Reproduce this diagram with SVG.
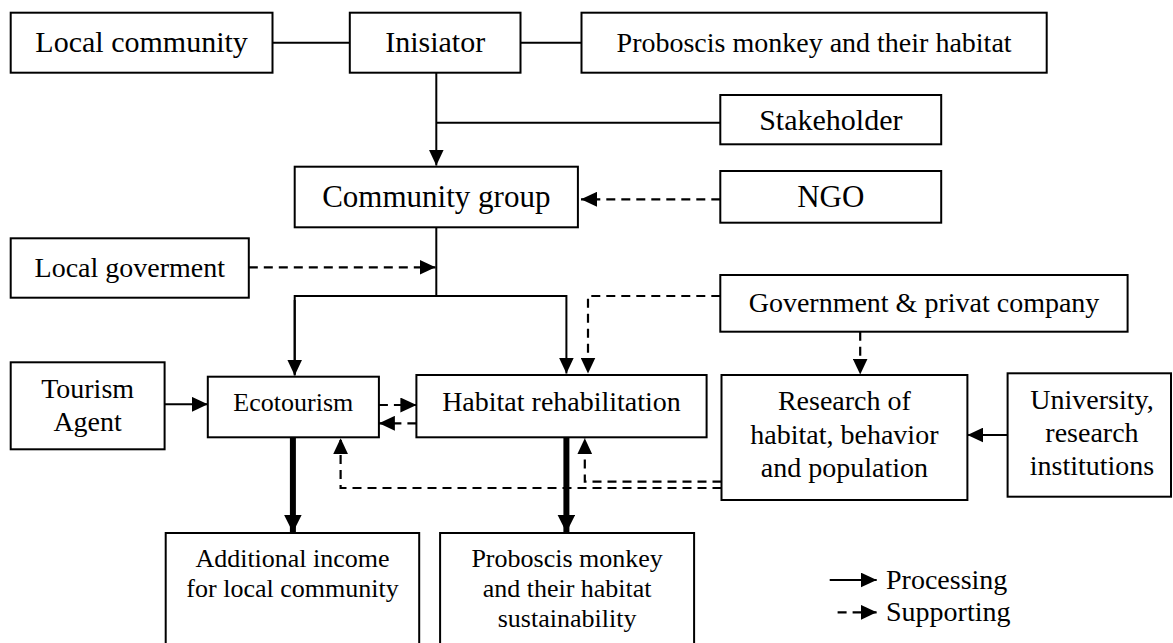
<svg xmlns="http://www.w3.org/2000/svg" width="1173" height="643" viewBox="0 0 1173 643">
<style>
  .box{fill:#fff;stroke:#000;stroke-width:2}
  text{fill:#000;text-anchor:middle}
  .f30{font-size:30px}
  .f28{font-size:28px}
  .f26{font-size:26px}
  .f31{font-size:31px}
  .ln{fill:none;stroke:#000;stroke-width:2}
  .ds{fill:none;stroke:#000;stroke-width:2.2;stroke-dasharray:9 6}
  .thick{fill:none;stroke:#000;stroke-width:6}
  .start{text-anchor:start}
</style>
<defs>
  <marker id="ah" markerUnits="userSpaceOnUse" markerWidth="16" markerHeight="15" refX="16" refY="7.5" orient="auto">
    <path d="M0,0 L16,7.5 L0,15 z" fill="#000"/>
  </marker>
  <marker id="ahT" markerUnits="userSpaceOnUse" markerWidth="18" markerHeight="18" refX="18" refY="9" orient="auto">
    <path d="M0,0 L18,9 L0,18 z" fill="#000"/>
  </marker>
</defs>

<g id="connectors">
  <line class="ln" x1="272.5" y1="42.7" x2="349.8" y2="42.7"/>
  <line class="ln" x1="520.5" y1="42.7" x2="581.5" y2="42.7"/>
  <line class="ln" x1="436.3" y1="72.7" x2="436.3" y2="165.5" marker-end="url(#ah)"/>
  <line class="ln" x1="436.3" y1="122.7" x2="720.3" y2="122.7"/>
  <line class="ds" x1="720.3" y1="199.3" x2="581" y2="199.3" marker-end="url(#ah)"/>
  <line class="ln" x1="436.3" y1="227.3" x2="436.3" y2="296"/>
  <line class="ds" x1="248.8" y1="267.3" x2="435.5" y2="267.3" marker-end="url(#ah)"/>
  <polyline class="ln" points="294.7,374.5 294.7,296 566.4,296 566.4,373.5" marker-end="url(#ah)"/>
  <line class="ln" x1="294.7" y1="300" x2="294.7" y2="375.5" marker-end="url(#ah)"/>
  <polyline class="ds" points="720.3,296 588,296 588,373.5" marker-end="url(#ah)"/>
  <line class="ds" x1="860.2" y1="331.7" x2="860.2" y2="374.5" marker-end="url(#ah)"/>
  <line class="ln" x1="164.6" y1="404.3" x2="207.8" y2="404.3" marker-end="url(#ah)"/>
  <line class="ds" x1="378.9" y1="405" x2="416.4" y2="405" marker-end="url(#ah)"/>
  <line class="ds" x1="416.4" y1="423.3" x2="378.9" y2="423.3" marker-end="url(#ah)"/>
  <line class="thick" x1="292.9" y1="437.3" x2="292.9" y2="532.5" marker-end="url(#ahT)"/>
  <line class="thick" x1="566.4" y1="437.3" x2="566.4" y2="532.5" marker-end="url(#ahT)"/>
  <polyline class="ds" points="721.5,488 340.6,488 340.6,438.3" marker-end="url(#ah)"/>
  <polyline class="ds" points="721.5,481.7 584.8,481.7 584.8,438.3" marker-end="url(#ah)"/>
  <line class="ln" x1="1007.6" y1="435" x2="967.4" y2="435" marker-end="url(#ah)"/>
</g>

<g font-family="'Liberation Serif', 'DejaVu Serif', 'Times New Roman', serif">
<g id="local-community">
  <rect class="box" x="10.7" y="12.7" width="261.8" height="60"/>
  <text class="f30" x="141.6" y="52">Local community</text>
</g>
<g id="inisiator">
  <rect class="box" x="349.8" y="12.7" width="170.7" height="60"/>
  <text class="f30" x="435.2" y="52">Inisiator</text>
</g>
<g id="proboscis-habitat">
  <rect class="box" x="581.5" y="12.7" width="465.2" height="60"/>
  <text class="f28" x="814.1" y="52">Proboscis monkey and their habitat</text>
</g>
<g id="stakeholder">
  <rect class="box" x="720.3" y="95" width="220.9" height="49.3"/>
  <text class="f30" x="830.8" y="130">Stakeholder</text>
</g>
<g id="community-group">
  <rect class="box" x="294.7" y="166.7" width="283.2" height="60.6"/>
  <text class="f31" x="436.3" y="207">Community group</text>
</g>
<g id="ngo">
  <rect class="box" x="720.3" y="171" width="220.9" height="51.7"/>
  <text class="f31" x="830.8" y="206.5">NGO</text>
</g>
<g id="local-goverment">
  <rect class="box" x="10.7" y="238.3" width="238.1" height="59.4"/>
  <text class="f28" x="129.8" y="277">Local goverment</text>
</g>
<g id="government-company">
  <rect class="box" x="720.3" y="275" width="407.3" height="56.7"/>
  <text class="f28" x="924" y="312">Government &amp; privat company</text>
</g>
<g id="tourism-agent">
  <rect class="box" x="10.7" y="362.3" width="153.9" height="87"/>
  <text class="f28" x="87.6" y="398">Tourism</text>
  <text class="f28" x="87.6" y="431">Agent</text>
</g>
<g id="ecotourism">
  <rect class="box" x="207.8" y="376.7" width="171.1" height="60.6"/>
  <text class="f26" x="293.3" y="411">Ecotourism</text>
</g>
<g id="habitat-rehabilitation">
  <rect class="box" x="416.4" y="375" width="290.2" height="62.3"/>
  <text class="f28" x="561.5" y="411">Habitat rehabilitation</text>
</g>
<g id="research">
  <rect class="box" x="721.5" y="375" width="245.9" height="125"/>
  <text class="f28" x="844.4" y="410">Research of</text>
  <text class="f28" x="844.4" y="443.5">habitat, behavior</text>
  <text class="f28" x="844.4" y="476.5">and population</text>
</g>
<g id="university">
  <rect class="box" x="1007.6" y="373.3" width="163.4" height="123.4"/>
  <text class="f28" x="1092" y="408.5">University,</text>
  <text class="f28" x="1092" y="441.5">research</text>
  <text class="f28" x="1092" y="475">institutions</text>
</g>
<g id="additional-income">
  <rect class="box" x="165.7" y="533" width="253.5" height="130"/>
  <text class="f26" x="292.5" y="567">Additional income</text>
  <text class="f26" x="292.5" y="597">for local community</text>
</g>
<g id="proboscis-sustainability">
  <rect class="box" x="440.1" y="533" width="254" height="130"/>
  <text class="f26" x="567.1" y="567">Proboscis monkey</text>
  <text class="f26" x="567.1" y="597">and their habitat</text>
  <text class="f26" x="567.1" y="627">sustainability</text>
</g>

<g id="legend">
  <line class="ln" x1="829.7" y1="580" x2="876.7" y2="580" marker-end="url(#ah)"/>
  <text class="f28 start" x="886" y="588.5">Processing</text>
  <line class="ds" x1="837.6" y1="612.3" x2="876.7" y2="612.3" marker-end="url(#ah)"/>
  <text class="f28 start" x="886" y="620.5">Supporting</text>
</g>
</g>
</svg>
